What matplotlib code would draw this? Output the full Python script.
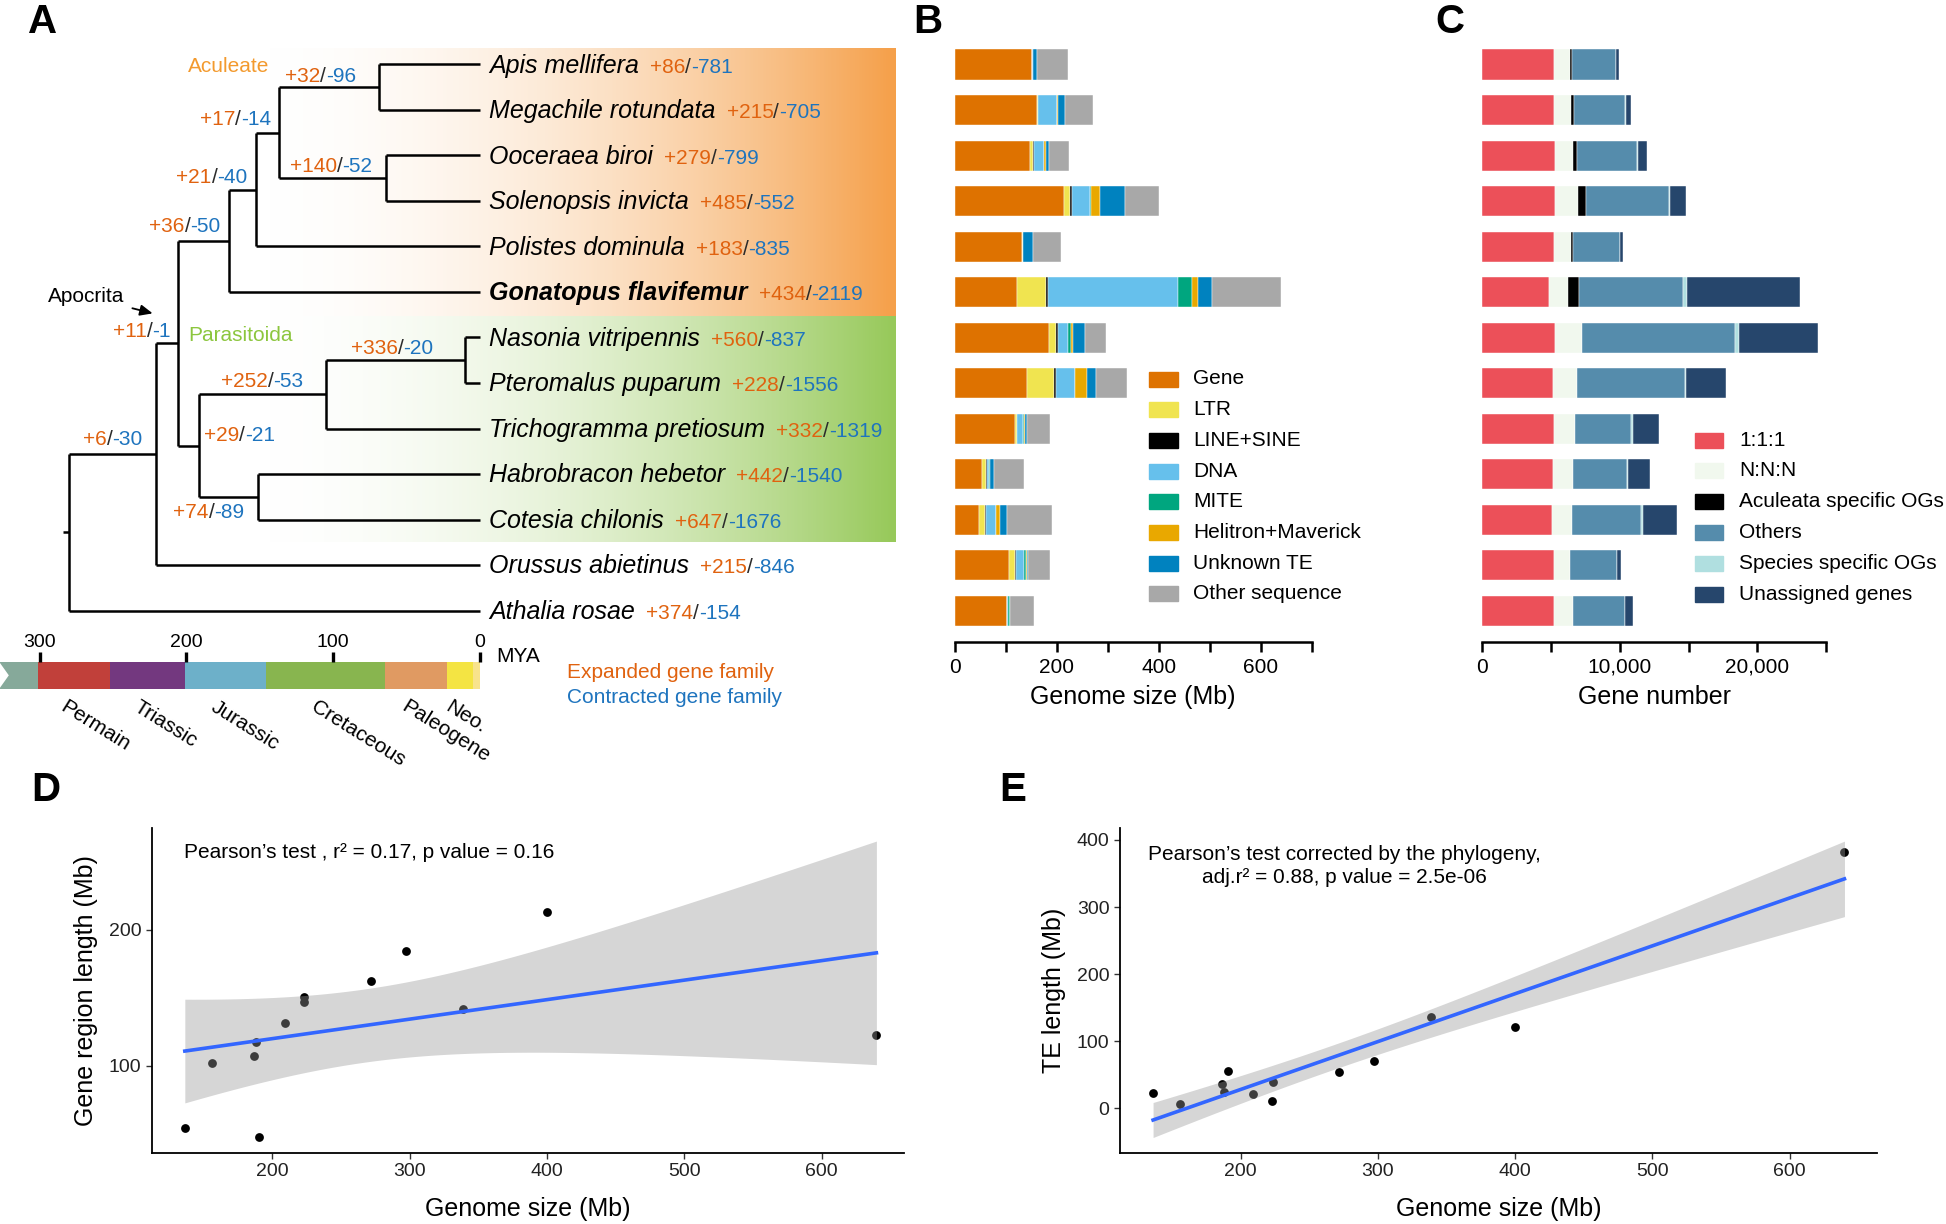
"""
Genome composition figure: tree with gene family changes, genome size bars,
gene number bars, and two genome size regressions
"""
import numpy as np
import matplotlib
matplotlib.use('Agg')
import matplotlib.pyplot as plt
from matplotlib.colors import LinearSegmentedColormap
from matplotlib.offsetbox import TextArea, HPacker, AnnotationBbox
from matplotlib.patches import Rectangle, Polygon

plt.rcParams['font.family'] = ['Liberation Sans', 'DejaVu Sans']

W, H = 1946, 1224

# ---------------- data ----------------
species = ['Apis mellifera', 'Megachile rotundata', 'Ooceraea biroi', 'Solenopsis invicta',
           'Polistes dominula', 'Gonatopus flavifemur', 'Nasonia vitripennis',
           'Pteromalus puparum', 'Trichogramma pretiosum', 'Habrobracon hebetor',
           'Cotesia chilonis', 'Orussus abietinus', 'Athalia rosae']
tip_gain = [86, 215, 279, 485, 183, 434, 560, 228, 332, 442, 647, 215, 374]
tip_loss = [781, 705, 799, 552, 835, 2119, 837, 1556, 1319, 1540, 1676, 846, 154]

# internal nodes: children (leaf index or node name), age (MYA), gain, loss
node_children = {
    'root': ['n1', 12],
    'n1': ['apocrita', 11],
    'apocrita': ['aculgon', 'parasitoida'],
    'aculgon': ['aculcore', 5],
    'aculcore': ['beesants', 4],
    'beesants': ['bees', 'ants'],
    'bees': [0, 1],
    'ants': [2, 3],
    'parasitoida': ['chalctri', 'braconid'],
    'chalctri': ['naspter', 8],
    'naspter': [6, 7],
    'braconid': [9, 10],
}
node_age = {'root': 280, 'n1': 220.5, 'apocrita': 205.5, 'aculgon': 171, 'aculcore': 152.5,
            'beesants': 137, 'bees': 69, 'ants': 64, 'parasitoida': 191.5,
            'chalctri': 105, 'naspter': 10, 'braconid': 151}
node_gain = {'bees': 32, 'beesants': 17, 'ants': 140, 'aculcore': 21, 'aculgon': 36,
             'apocrita': 11, 'naspter': 336, 'chalctri': 252, 'parasitoida': 29,
             'n1': 6, 'braconid': 74}
node_loss = {'bees': 96, 'beesants': 14, 'ants': 52, 'aculcore': 40, 'aculgon': 50,
             'apocrita': 1, 'naspter': 20, 'chalctri': 53, 'parasitoida': 21,
             'n1': 30, 'braconid': 89}

# geological time scale (MYA)
era_names = ['', 'Permain', 'Triassic', 'Jurassic', 'Cretaceous', 'Paleogene', 'Neo.', '']
era_start = [327, 301, 252, 201, 146, 65, 22.5, 5]
era_end = [301, 252, 201, 146, 65, 22.5, 5, 0]
era_colors = ['#86A99A', '#C1403A', '#73387F', '#6DB0C9', '#88B54F', '#E09A62', '#F4E443', '#F8E38C']
scale_ticks = [300, 200, 100, 0]

# genome composition (Mb)
gene = [151, 162.4, 147.3, 213.5, 131.6, 122.5, 184.7, 142.1, 117.9, 54.4, 47.8, 107.4, 102.2]
ltr = [0, 2, 6.5, 11.8, 2, 55.7, 13.1, 52.4, 3.9, 7.2, 12.4, 10.5, 0]
line_sine = [1.5, 0, 1.5, 5.2, 0, 4.6, 5.2, 4.6, 0.5, 2.6, 2, 2, 0]
dna = [2, 37, 20.3, 34.7, 0, 255.4, 19.6, 36, 12.4, 3.9, 19.6, 17, 3.3]
mite = [0, 0, 0, 2, 0, 26.2, 4.6, 0, 2, 2, 0, 3.3, 2.6]
helitron = [0, 1, 3.9, 17, 0, 13.1, 4.6, 24.2, 2, 0, 6.5, 1.3, 0]
unknown_te = [7.5, 13.8, 6.5, 50.4, 19.6, 27.5, 23.6, 18.3, 3.3, 6.5, 14.4, 2.6, 0]
other_seq = [61, 55.7, 37.3, 65.5, 55.7, 134.9, 41.9, 60.9, 45.8, 59.6, 87.8, 42.6, 47.8]
comp_labels = ['Gene', 'LTR', 'LINE+SINE', 'DNA', 'MITE', 'Helitron+Maverick',
               'Unknown TE', 'Other sequence']

# gene numbers
one2one = [5180, 5230, 5254, 5303, 5206, 4818, 5303, 5133, 5206, 5109, 5061, 5182, 5230]
nnn = [1186, 1235, 1307, 1671, 1235, 1429, 1937, 1719, 1550, 1501, 1477, 1186, 1380]
aculeata_og = [170, 218, 315, 581, 121, 751, 0, 0, 0, 0, 0, 0, 0]
others = [3172, 3656, 4383, 5981, 3438, 7579, 11162, 7869, 4019, 3874, 4988, 3414, 3777]
species_og = [0, 73, 48, 97, 0, 315, 242, 121, 145, 121, 121, 0, 0]
unassigned = [194, 412, 630, 1211, 194, 8232, 5763, 2857, 1889, 1622, 2518, 291, 581]
og_labels = ['1:1:1', 'N:N:N', 'Aculeata specific OGs', 'Others',
             'Species specific OGs', 'Unassigned genes']

# ---------------- styles ----------------
C_EXP = '#E0620F'
C_CON = '#1E74BE'
C_SLASH = '#2b2b2b'
comp_colors = ['#DE7200', '#F0E450', '#000000', '#66C0EC', '#00A67F', '#E9A800',
               '#0082BF', '#A8A8A8']
og_colors = ['#EC5059', '#F1F8EE', '#000000', '#558CAC', '#B0DFE0', '#26466C']

fig = plt.figure(figsize=(W / 100, H / 100), dpi=100)


def px_axes(x0, y0, x1, y1):
    return fig.add_axes([x0 / W, 1 - y1 / H, (x1 - x0) / W, (y1 - y0) / H])


def px_text(x, y, s, **kw):
    return fig.text(x / W, 1 - y / H, s, **kw)


def gl_box(g, l, size=15):
    parts = [TextArea('+%d' % g, textprops=dict(color=C_EXP, fontsize=size)),
             TextArea('/', textprops=dict(color=C_SLASH, fontsize=size)),
             TextArea('-%d' % l, textprops=dict(color=C_CON, fontsize=size))]
    return HPacker(children=parts, align='baseline', pad=0, sep=0)


# ---------------- A: tree ----------------
axA = px_axes(0, 30, 896, 780)
XL = (327.0, -283.4)
YL = (15.725, -0.758)

orange_cm = LinearSegmentedColormap.from_list('or', ['white', '#F5A04A'])
green_cm = LinearSegmentedColormap.from_list('gr', ['white', '#97C95A'])
grad = np.linspace(0, 1, 256)[None, :] ** 2.0
axA.imshow(grad, cmap=orange_cm, extent=(170, -283.4, 5.54, -0.37), aspect='auto',
           zorder=0, vmin=0, vmax=1)
axA.imshow(grad, cmap=green_cm, extent=(170, -283.4, 10.49, 5.54), aspect='auto',
           zorder=0, vmin=0, vmax=1)


def node_y(n):
    if isinstance(n, int):
        return n
    ys = [node_y(c) for c in node_children[n]]
    return (min(ys) + max(ys)) / 2


def age_of(n):
    return 0 if isinstance(n, int) else node_age[n]


tree_kw = dict(color='black', lw=1.8, solid_capstyle='butt', zorder=2)
for n, kids in node_children.items():
    a = node_age[n]
    ys = [node_y(c) for c in kids]
    axA.plot([a, a], [min(ys), max(ys)], **tree_kw)
    for c in kids:
        axA.plot([a, age_of(c)], [node_y(c), node_y(c)], **tree_kw)
axA.plot([node_age['root'] + 4, node_age['root']], [node_y('root')] * 2, **tree_kw)

# node gain/loss labels, offsets in points from the node
label_off = {'bees': (-41.8, 7.4), 'beesants': (-31.1, 9.2), 'ants': (-39.6, 8.3),
             'aculcore': (-31.8, 8.8), 'aculgon': (-31.7, 10.1), 'apocrita': (-26.3, 8.6),
             'naspter': (-52.6, 8.6), 'chalctri': (-45.8, 9.1), 'parasitoida': (29.2, 6.9),
             'n1': (-31.3, 10.8), 'braconid': (-35.6, -11.5)}
for n, (dx, dy) in label_off.items():
    ab = AnnotationBbox(gl_box(node_gain[n], node_loss[n]), (node_age[n], node_y(n)),
                        xybox=(dx, dy), xycoords='data', boxcoords='offset points',
                        frameon=False, box_alignment=(0.5, 0.5), pad=0)
    axA.add_artist(ab)

# tip labels
for i, sp in enumerate(species):
    name = TextArea(sp, textprops=dict(fontsize=18, style='italic',
                                       weight='bold' if i == 5 else 'normal'))
    box = HPacker(children=[name, gl_box(tip_gain[i], tip_loss[i])], align='baseline',
                  pad=0, sep=8)
    ab = AnnotationBbox(box, (0, i), xybox=(6.5, -1), xycoords='data',
                        boxcoords='offset points', frameon=False, box_alignment=(0, 0.5), pad=0)
    axA.add_artist(ab)

axA.text(171.5, 0.05, 'Aculeate', color='#F39A2E', fontsize=15, ha='center', va='center')
axA.text(163.5, 5.95, 'Parasitoida', color='#8CC63E', fontsize=15, ha='center', va='center')
axA.annotate('Apocrita', xy=(223, 5.47), xytext=(268.4, 5.1), fontsize=15,
             ha='center', va='center',
             arrowprops=dict(arrowstyle='-|>,head_length=0.5,head_width=0.22', color='black',
                             lw=1.3, shrinkA=4, shrinkB=0))

# time scale
bar_top, bar_bot = 13.13, 13.72
for nm, s, e, col in zip(era_names, era_start, era_end, era_colors):
    axA.add_patch(Rectangle((e, bar_top), s - e, bar_bot - bar_top, color=col, lw=0, zorder=2))
    if nm:
        axA.text((s + e) / 2 + 5, 13.9, nm, fontsize=15, rotation=-32, rotation_mode='anchor',
                 ha='left', va='top')
axA.add_patch(Polygon([(327.5, bar_top), (321, (bar_top + bar_bot) / 2), (327.5, bar_bot)],
                      closed=True, color='white', lw=0, zorder=3))
for t in scale_ticks:
    axA.plot([t, t], [12.92, 13.14], color='black', lw=2.4, zorder=3, solid_capstyle='butt')
    axA.text(t, 12.70, str(t), fontsize=14, ha='center', va='center')
axA.text(-10.9, 13.02, 'MYA', fontsize=15, ha='left', va='center')
axA.text(-59, 13.37, 'Expanded gene family', color=C_EXP, fontsize=15, ha='left', va='center')
axA.text(-59, 13.92, 'Contracted gene family', color=C_CON, fontsize=15, ha='left', va='center')

axA.set_xlim(*XL)
axA.set_ylim(*YL)
axA.axis('off')

# ---------------- B: genome composition ----------------
rows = np.arange(len(species))


def style_bar_axis(ax):
    for s in ['left', 'top', 'right']:
        ax.spines[s].set_visible(False)
    ax.spines['bottom'].set_linewidth(1.8)
    ax.set_yticks([])
    ax.tick_params(axis='x', length=7.5, width=1.8, labelsize=15, pad=4)


axB = px_axes(954.5, 41.75, 1312, 642)
comp = [gene, ltr, line_sine, dna, mite, helitron, unknown_te, other_seq]
left = np.zeros(len(species))
for vals, col in zip(comp, comp_colors):
    axB.barh(rows, vals, left=left, height=0.66, color=col, edgecolor='white', linewidth=0.3)
    left += np.array(vals)
axB.set_xlim(0, 700)
axB.set_ylim(12.69, -0.5)
axB.set_xticks(np.arange(0, 701, 100))
axB.set_xticklabels(['0', '', '200', '', '400', '', '600', ''])
style_bar_axis(axB)
axB.set_xlabel('Genome size (Mb)', fontsize=18, labelpad=6)

for k, (lab, col) in enumerate(zip(comp_labels, comp_colors)):
    yc = 379 + 30.7 * k
    fig.patches.append(Rectangle((1149 / W, 1 - (yc + 7.5) / H), 29 / W, 15 / H,
                                 color=col, transform=fig.transFigure, figure=fig))
    px_text(1193, yc, lab, fontsize=15, va='center', ha='left')

# ---------------- C: gene numbers ----------------
axC = px_axes(1482.3, 41.75, 1826.2, 642)
ogs = [one2one, nnn, aculeata_og, others, species_og, unassigned]
left = np.zeros(len(species))
for vals, col in zip(ogs, og_colors):
    axC.barh(rows, vals, left=left, height=0.66, color=col, edgecolor='white', linewidth=0.3)
    left += np.array(vals)
axC.set_xlim(0, 25000)
axC.set_ylim(12.69, -0.5)
axC.set_xticks(np.arange(0, 25001, 5000))
axC.set_xticklabels(['0', '', '10,000', '', '20,000', ''])
style_bar_axis(axC)
axC.set_xlabel('Gene number', fontsize=18, labelpad=6)

for k, (lab, col) in enumerate(zip(og_labels, og_colors)):
    yc = 440 + 30.8 * k
    fig.patches.append(Rectangle((1695 / W, 1 - (yc + 7.5) / H), 28 / W, 15 / H,
                                 color=col, transform=fig.transFigure, figure=fig))
    px_text(1739, yc, lab, fontsize=15, va='center', ha='left')

# ---------------- D / E: regressions ----------------
genome_size = np.sum(np.array(comp), axis=0)
te_length = np.sum(np.array([ltr, line_sine, dna, mite, helitron, unknown_te]), axis=0)
gene_len = np.array(gene)


def scatter_lm(ax, x, y):
    ax.scatter(x, y, s=40, color='black', lw=0, zorder=1)
    b, a = np.polyfit(x, y, 1)
    xs = np.linspace(x.min(), x.max(), 200)
    yhat = a + b * xs
    n = len(x)
    resid = y - (a + b * x)
    s = np.sqrt(np.sum(resid ** 2) / (n - 2))
    se = s * np.sqrt(1 / n + (xs - x.mean()) ** 2 / np.sum((x - x.mean()) ** 2))
    t = 2.201  # t(0.975, df = 11)
    ax.fill_between(xs, yhat - t * se, yhat + t * se, color='#999999', alpha=0.4, lw=0, zorder=2)
    ax.plot(xs, yhat, color='#3366FF', lw=2.6, zorder=3)
    for sp in ['top', 'right']:
        ax.spines[sp].set_visible(False)
    for sp in ['left', 'bottom']:
        ax.spines[sp].set_linewidth(1.3)
    ax.tick_params(length=4, width=1, color='#333333', labelcolor='#222222', labelsize=14)


axD = px_axes(152, 827.7, 904, 1152.7)
scatter_lm(axD, genome_size, gene_len)
axD.set_xlim(112.3, 660)
axD.set_ylim(36.25, 275.2)
axD.set_xticks([200, 300, 400, 500, 600])
axD.set_yticks([100, 200])
axD.set_xlabel('Genome size (Mb)', fontsize=18, labelpad=12)
axD.set_ylabel('Gene region length (Mb)', fontsize=18, labelpad=8)
px_text(184.5, 853, 'Pearson\u2019s test , r\u00b2 = 0.17, p value = 0.16', fontsize=15,
        ha='left', va='center')

axE = px_axes(1120, 827.7, 1877, 1152.7)
scatter_lm(axE, genome_size, te_length)
axE.set_xlim(112.1, 663.6)
axE.set_ylim(-66.2, 418.3)
axE.set_xticks([200, 300, 400, 500, 600])
axE.set_yticks([0, 100, 200, 300, 400])
axE.set_xlabel('Genome size (Mb)', fontsize=18, labelpad=12)
axE.set_ylabel('TE length (Mb)', fontsize=18, labelpad=8)
px_text(1344, 866, 'Pearson\u2019s test corrected by the phylogeny,\nadj.r\u00b2 = 0.88, p value = 2.5e-06',
        fontsize=15, ha='center', va='center', linespacing=1.25)

# panel letters
for lab, x, y in [('A', 43, 22), ('B', 928, 22), ('C', 1450, 22), ('D', 46, 790), ('E', 1013, 790)]:
    px_text(x, y, lab, fontsize=29, weight='bold', ha='center', va='center')

fig.savefig('out.png', dpi=100, facecolor='white')
